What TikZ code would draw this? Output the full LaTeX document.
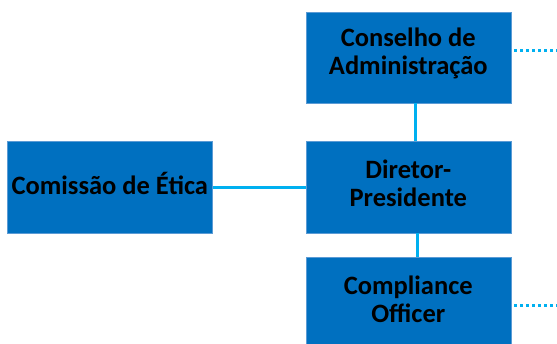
\documentclass[tikz,border=0pt]{standalone}
\usepackage{fontspec}
\setmainfont{Carlito}
\definecolor{boxblue}{HTML}{0070C0}
\definecolor{boxedge}{HTML}{5B9BD5}
\definecolor{linkblue}{HTML}{00B0F0}
\begin{document}
\begin{tikzpicture}[x=1pt,y=-1pt,
  orgbox/.style={fill=boxblue,draw=boxedge,line width=0.6pt,inner sep=0pt,minimum width=205pt},
  orgtext/.style={inner sep=0pt,align=center,yshift=4pt,
     font=\fontsize{26.5}{28}\selectfont\bfseries,text=black},
  link/.style={draw=linkblue,line width=3pt},
  dotlink/.style={draw=linkblue,line width=3pt,dash pattern=on 3pt off 3pt}]
\useasboundingbox (0,0) rectangle (557,343);
\node[orgbox,minimum height=91pt] (cons) at (408.3,57.5) {};
\node[orgbox,minimum height=92pt] (dir) at (408.3,187) {};
\node[orgbox,minimum height=92pt] (comp) at (408.3,303) {};
\node[orgbox,minimum height=92pt] (etica) at (109.8,187) {};
\node[orgtext] (cons-t) at (cons.center) {Conselho de\\Administração};
\node[orgtext] (dir-t) at (dir.center) {Diretor-\\Presidente};
\node[orgtext] (comp-t) at (408.3,303) {Compliance\\Officer};
\node[orgtext] (etica-t) at (etica.center) {Comissão de Ética};
\coordinate (e1) at (557,50);
\coordinate (e2) at (557,305.7);
\draw[link] (cons.south -| 415,0) -- (dir.north -| 415,0);
\draw[link] (dir.south -| 417,0) -- (comp.north -| 417,0);
\draw[link] (etica.east) -- (dir.west);
\draw[dotlink] (cons.east |- e1) ++(3,0) -- (e1);
\draw[dotlink] (comp.east |- e2) ++(3,0) -- (e2);
\end{tikzpicture}
\end{document}
